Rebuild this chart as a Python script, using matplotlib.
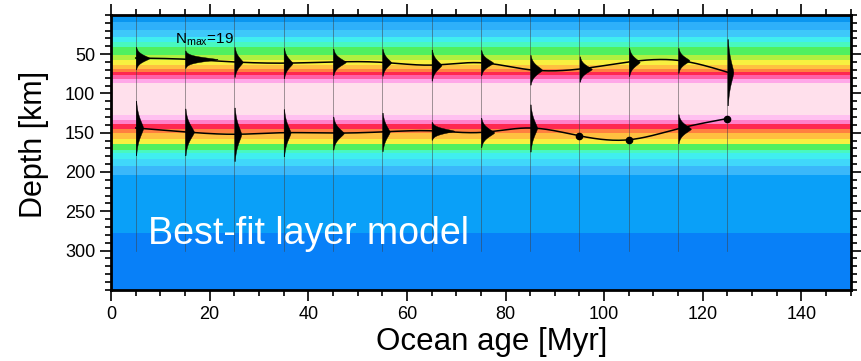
import numpy as np
import matplotlib
matplotlib.use("Agg")
import matplotlib.pyplot as plt
from matplotlib.colors import ListedColormap
from matplotlib.ticker import MultipleLocator

plt.rcParams['font.family'] = ['Liberation Sans', 'DejaVu Sans']
plt.rcParams['mathtext.fontset'] = 'custom'
plt.rcParams['mathtext.rm'] = 'Liberation Sans'

# ---- background layer model: depth band edges [km] and their colours ----
band_edges_km = [0, 9, 19, 28, 34, 41, 51, 57, 64, 69, 73, 77, 82, 87, 127,
                 134, 139, 145, 151, 158, 164, 172, 176, 184, 192, 204, 277, 350]
band_colors = ['#0a96f0', '#2eb0fa', '#3ec8fa', '#40eef0', '#48f8c0', '#50f060',
               '#b0f040', '#f8f040', '#ffc040', '#ff8040', '#ff2850', '#ff60a8',
               '#ffa8e8', '#ffe0ec', '#ffc0f0', '#ff80c8', '#ff2850', '#ff8040',
               '#ffc040', '#f8f040', '#50f060', '#48f8c0', '#40eef0', '#40d8fa',
               '#3ab8fa', '#0aa0f8', '#0880f8']

# ---- ocean-age bins [Myr] ----
ages = [5, 15, 25, 35, 45, 55, 65, 75, 85, 95, 105, 115, 125]

# upper interface: mode depth [km], peak width [Myr], spread [km]
upper_mode = [55, 56.5, 60, 61.5, 60, 60.5, 64, 61, 70, 69, 60, 58, 73]
upper_amp = [2.8, 6.6, 1.7, 1.8, 2.6, 1.8, 2.0, 2.5, 2.4, 2.5, 2.2, 2.3, 1.2]
upper_spread = [6, 4, 9, 9, 7.3, 8, 9, 7, 8.3, 7, 8, 7, 22]

# lower interface: mode depth [km], peak width [Myr], spread [km] (0 = no samples)
lower_mode = [144, 149, 152, 150, 150.5, 149, 147.6, 149.7, 144, 154, 159, 145, 132]
lower_amp = [1.5, 1.8, 1.4, 1.4, 2.2, 1.5, 4.6, 2.7, 1.4, 0, 0, 2.6, 0]
lower_spread = [17, 14, 17, 15, 9.4, 12, 4.4, 8, 15, 0, 0, 8, 0]

n_max = 19


def natural_spline(x, y, xs):
    x = np.asarray(x, float)
    y = np.asarray(y, float)
    n = len(x)
    h = np.diff(x)
    A = np.zeros((n, n))
    r = np.zeros(n)
    A[0, 0] = A[-1, -1] = 1.0
    for i in range(1, n - 1):
        A[i, i - 1] = h[i - 1]
        A[i, i] = 2 * (h[i - 1] + h[i])
        A[i, i + 1] = h[i]
        r[i] = 6 * ((y[i + 1] - y[i]) / h[i] - (y[i] - y[i - 1]) / h[i - 1])
    M = np.linalg.solve(A, r)
    idx = np.clip(np.searchsorted(x, xs) - 1, 0, n - 2)
    x0, x1 = x[idx], x[idx + 1]
    hh = x1 - x0
    t0, t1 = x1 - xs, xs - x0
    return (M[idx] * t0 ** 3 / (6 * hh) + M[idx + 1] * t1 ** 3 / (6 * hh)
            + (y[idx] / hh - M[idx] * hh / 6) * t0
            + (y[idx + 1] / hh - M[idx + 1] * hh / 6) * t1)


fig = plt.figure(figsize=(8.61, 3.61), dpi=100)
ax = fig.add_axes([0.129, 0.197, 0.859, 0.762])

# background
cmap = ListedColormap(band_colors)
vals = np.arange(len(band_colors)).reshape(-1, 1)
ax.pcolormesh([0, 150], band_edges_km, vals, cmap=cmap, shading='flat',
              vmin=-0.5, vmax=len(band_colors) - 0.5, zorder=0)

# vertical sampling lines
for a in ages:
    ax.plot([a, a], [0, 300], color='#404040', lw=0.5, alpha=0.7, zorder=1)

# posterior distributions of interface depth (one-sided, to the right)
depth = np.linspace(0, 300, 3001)
shape_power = 1.4
for a, m, amp, s in list(zip(ages, upper_mode, upper_amp, upper_spread)) + \
        list(zip(ages, lower_mode, lower_amp, lower_spread)):
    if amp <= 0:
        continue
    w = amp * np.exp(-(np.abs(depth - m) / s) ** shape_power)
    keep = w > 0.1
    ax.fill_betweenx(depth[keep], a, a + w[keep], color='black', lw=0.3,
                     edgecolor='black', zorder=3)

# smooth curves through the modes
xs = np.linspace(ages[0], ages[-1], 600)
ax.plot(xs, natural_spline(ages, upper_mode, xs), color='black', lw=1.1, zorder=4)
ax.plot(xs, natural_spline(ages, lower_mode, xs), color='black', lw=1.1, zorder=4)
for a, m, amp in zip(ages, lower_mode, lower_amp):
    if amp <= 0:
        ax.plot(a, m, 'o', color='black', ms=4.5, zorder=5)

ax.text(13.0, 36, r'N$_{\mathrm{max}}$=' + str(n_max), fontsize=11, color='black',
        va='baseline', ha='left', zorder=6)
ax.text(7.5, 292, 'Best-fit layer model', fontsize=27, color='white',
        va='baseline', ha='left', zorder=6)

ax.set_xlim(0, 150)
ax.set_ylim(350, 0)
ax.xaxis.set_major_locator(MultipleLocator(20))
ax.xaxis.set_minor_locator(MultipleLocator(5))
ax.set_yticks([50, 100, 150, 200, 250, 300])
ax.yaxis.set_minor_locator(MultipleLocator(10))
ax.tick_params(which='both', direction='out', top=True, right=True, width=1.2,
               labelsize=13)
ax.tick_params(which='major', length=8)
ax.tick_params(which='minor', length=4)
for sp in ax.spines.values():
    sp.set_linewidth(2)

ax.set_xlabel('Ocean age [Myr]', fontsize=22.5)
ax.set_ylabel('Depth [km]', fontsize=22)
ax.xaxis.set_label_coords(0.515, -0.135)
ax.yaxis.set_label_coords(-0.084, 0.53)

fig.savefig('out.png', dpi=100)
